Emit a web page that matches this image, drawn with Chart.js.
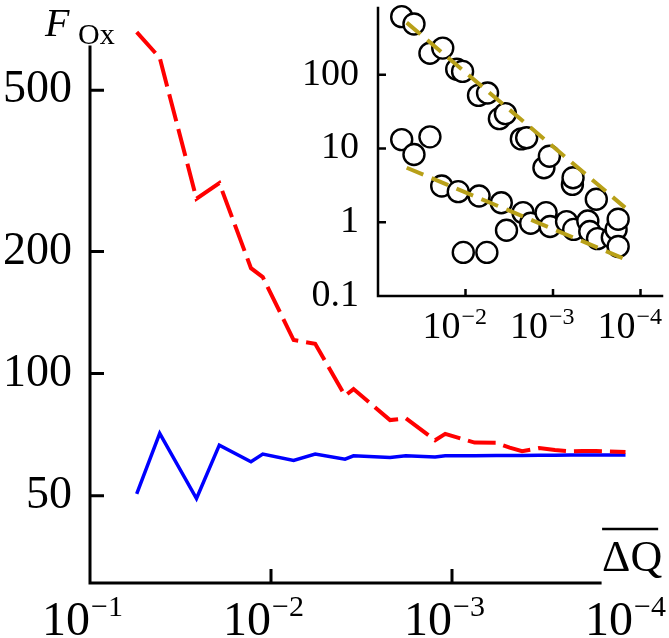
<!DOCTYPE html>
<html><head><meta charset="utf-8">
<script src="https://cdn.jsdelivr.net/npm/chart.js@4.4.1/dist/chart.umd.min.js"></script>
<style>
html,body{margin:0;padding:0;background:#fff;}
#wrap{position:relative;width:669px;height:638px;overflow:hidden;}
#main{position:absolute;left:0;top:0;}
#inset{position:absolute;left:280px;top:0;}
</style></head><body>
<div id="wrap"><canvas id="main" width="669" height="638"></canvas><canvas id="inset" width="389" height="345"></canvas></div>
<script>
// ---- main chart data ----
const dQ   = [0.0552,0.0412,0.0258,0.0193,0.0129,0.0111,0.0075,0.0057,0.0039,0.0035,0.0022,0.0018,0.00124,0.00109,0.00075,0.00057,0.00048,0.00041,0.00033,0.00027,0.00022,0.00019,0.00016,0.00011];
const fRed = [695,601,270,295,182,173,121,118.5,88.2,91.6,76.8,77.6,68.5,71.0,67.6,67.5,65.7,64.4,65.5,64.8,64.3,64.4,64.4,64.1];
const fBlue= [50.5,71.2,49.2,66.6,60.6,63.3,61.1,63.3,61.5,62.7,62.1,62.7,62.3,62.7,62.7,62.8,62.8,62.8,62.9,62.9,63.0,63.0,63.0,63.0];
const mainYTicks = [50,100,200,500];
const mainXTicks = [1e-1,1e-2,1e-3,1e-4];
const mainXExp   = ['−1','−2','−3','−4'];
const yTitle = ['F','Ox'];
const xTitle = 'ΔQ';
// ---- inset data ----
const upperX = [0.0536,0.0388,0.0255,0.0182,0.0126,0.0108,0.0071,0.0056,0.0041,0.0035,0.0023,0.0020,0.00127,0.00110,0.00060,0.00059,0.00032,0.00018];
const upperY = [614,489,196,230,119,111,52.5,56.6,25.4,29.7,13.5,14.0,5.48,7.87,3.26,4.02,2.05,1.10];
const lowerX = [0.0536,0.0388,0.0255,0.0187,0.0121,0.0070,0.0039,0.0034,0.0022,0.0018,0.0012,0.00108,0.00070,0.00058,0.00040,0.00038,0.00031,0.00021,0.00019,0.00018,0.0106,0.0057];
const lowerY = [13.2,8.3,14.4,3.10,2.60,2.27,1.84,0.78,1.35,0.97,1.35,0.875,1.02,0.80,1.04,0.75,0.60,0.62,0.80,0.47,0.39,0.39];
const fitX = [0.047,0.00015];
const fitUpper = [509,1.58];
const fitLower = [5.48,0.316];
const insetYTicks = [0.1,1,10,100];
const insetXTicks = [1e-2,1e-3,1e-4];
const insetXExp   = ['−2','−3','−4'];

const SERIF = '"Liberation Serif", "Times New Roman", serif';
const pts = (xs, ys) => xs.map((x,i)=>({x:x, y:ys[i]}));
const noPad = (s) => { s.paddingTop = 0; s.paddingBottom = 0; s.paddingLeft = 0; s.paddingRight = 0; };

const decor = {
  id:'decor',
  afterDraw(chart, args, o){
    const ctx = chart.ctx, a = chart.chartArea, xs = chart.scales.x, ys = chart.scales.y;
    ctx.save();
    ctx.strokeStyle = '#000'; ctx.fillStyle = '#000';
    ctx.lineWidth = o.axisW; ctx.lineCap = 'square';
    const xEnd = o.xEnd ? xs.getPixelForValue(o.xEnd) : a.right;
    ctx.beginPath(); ctx.moveTo(a.left, a.top); ctx.lineTo(a.left, a.bottom); ctx.lineTo(xEnd, a.bottom); ctx.stroke();
    ctx.lineCap = 'butt'; ctx.lineWidth = o.tickW;
    ctx.beginPath();
    o.xTickVals.forEach(v=>{const px = xs.getPixelForValue(v); ctx.moveTo(px, a.bottom); ctx.lineTo(px, a.bottom - o.xTickLen);});
    o.yTickVals.forEach(v=>{const py = ys.getPixelForValue(v); ctx.moveTo(a.left, py); ctx.lineTo(a.left + o.yTickLen, py);});
    ctx.stroke();
    ctx.textBaseline = 'alphabetic';
    o.xVals.forEach((v,i)=>{
      const px = xs.getPixelForValue(v) + o.xLabOff;
      ctx.font = o.baseSize + 'px ' + SERIF; ctx.textAlign = 'right';
      ctx.fillText('10', px, o.xLabBase);
      ctx.font = o.expSize + 'px ' + SERIF; ctx.textAlign = 'left';
      ctx.fillText(o.xExp[i], px + 1, o.xLabBase - o.expRaise);
    });
    if (o.titles) {
      ctx.textAlign = 'left';
      ctx.font = 'italic 40px ' + SERIF; ctx.fillText(yTitle[0], 45, 36);
      ctx.font = '30px ' + SERIF; ctx.fillText(yTitle[1], 78, 44);
      ctx.font = '44px ' + SERIF;
      const tx = xEnd + 2, tb = 571;
      ctx.fillText(xTitle, tx, tb);
      const w = ctx.measureText(xTitle).width;
      ctx.lineWidth = 2.5; ctx.beginPath(); ctx.moveTo(tx, tb - 42); ctx.lineTo(tx + w - 4, tb - 42); ctx.stroke();
    }
    ctx.restore();
  }
};

new Chart(document.getElementById('main'), {
  type:'line',
  data:{datasets:[
    {data:pts(dQ,fRed), borderColor:'#ff0000', borderWidth:4, borderDash:[28,8], pointRadius:0, tension:0, clip:false, fill:false},
    {data:pts(dQ,fBlue), borderColor:'#0000ff', borderWidth:3.5, pointRadius:0, tension:0, clip:false, fill:false}
  ]},
  options:{
    responsive:false, animation:false, devicePixelRatio:1,
    layout:{autoPadding:false, padding:{left:0, top:47, right:36, bottom:0}},
    plugins:{legend:{display:false}, tooltip:{enabled:false},
      decor:{axisW:3, tickW:3, xTickLen:14, yTickLen:14, xEnd:1.52e-4,
        xTickVals:[1e-2,1e-3], yTickVals:mainYTicks,
        xVals:mainXTicks, xExp:mainXExp, baseSize:48, expSize:30, xLabBase:635, expRaise:19, xLabOff:0, titles:true}},
    scales:{
      x:{type:'logarithmic', reverse:true, min:1e-4, max:0.1,
         grid:{display:false, drawTicks:false, tickLength:0}, border:{display:false}, ticks:{display:false},
         afterBuildTicks(s){ s.ticks = mainXTicks.map(v=>({value:v})); },
         afterFit(s){ s.height = 55; noPad(s); }},
      y:{type:'logarithmic', min:30.45, max:639,
         grid:{display:false, drawTicks:false, tickLength:0}, border:{display:false},
         ticks:{color:'#000', font:{family:SERIF, size:46}, padding:18, autoSkip:false, callback:(v)=>String(v)},
         afterBuildTicks(s){ s.ticks = mainYTicks.map(v=>({value:v})); },
         afterFit(s){ s.width = 90; noPad(s); }}
    }
  },
  plugins:[decor]
});

new Chart(document.getElementById('inset'), {
  type:'scatter',
  data:{datasets:[
    {data:pts(fitX,fitUpper), showLine:true, borderColor:'#b8a018', borderWidth:4, borderDash:[18,9], pointRadius:0, clip:false},
    {data:pts(fitX,fitLower), showLine:true, borderColor:'#b8a018', borderWidth:4, borderDash:[18,9], pointRadius:0, clip:false},
    {data:pts(upperX,upperY), pointRadius:10.5, pointBorderWidth:2.4, pointBorderColor:'#000', pointBackgroundColor:'#fff', clip:false},
    {data:pts(lowerX,lowerY), pointRadius:10.5, pointBorderWidth:2.4, pointBorderColor:'#000', pointBackgroundColor:'#fff', clip:false}
  ]},
  options:{
    responsive:false, animation:false, devicePixelRatio:1,
    layout:{autoPadding:false, padding:{left:0, top:8, right:7, bottom:0}},
    plugins:{legend:{display:false}, tooltip:{enabled:false},
      decor:{axisW:2.5, tickW:2.5, xTickLen:7, yTickLen:8,
        xTickVals:insetXTicks, yTickVals:[1,10,100],
        xVals:insetXTicks, xExp:insetXExp, baseSize:38, expSize:24, xLabBase:338, expRaise:14, xLabOff:-5, titles:false}},
    scales:{
      x:{type:'logarithmic', reverse:true, min:5.68e-5, max:0.1,
         grid:{display:false, drawTicks:false, tickLength:0}, border:{display:false}, ticks:{display:false},
         afterBuildTicks(s){ s.ticks = insetXTicks.map(v=>({value:v})); },
         afterFit(s){ s.height = 49; noPad(s); }},
      y:{type:'logarithmic', min:0.1, max:804,
         grid:{display:false, drawTicks:false, tickLength:0}, border:{display:false},
         ticks:{color:'#000', font:{family:SERIF, size:38}, padding:19, autoSkip:false, callback:(v)=>String(v)},
         afterBuildTicks(s){ s.ticks = insetYTicks.map(v=>({value:v})); },
         afterFit(s){ s.width = 98; noPad(s); }}
    }
  },
  plugins:[decor]
});
</script>
</body></html>
